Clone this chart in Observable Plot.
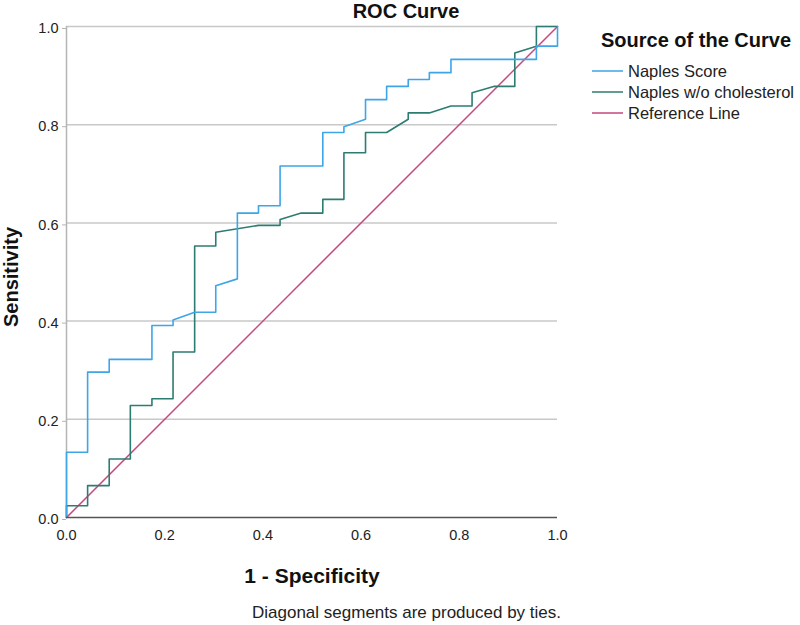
<!DOCTYPE html>
<html>
<head>
<meta charset="utf-8">
<script src="https://cdn.jsdelivr.net/npm/d3@7"></script>
<script src="https://cdn.jsdelivr.net/npm/@observablehq/plot@0.6"></script>
<style>
  html, body { margin: 0; padding: 0; background: #fff; }
  #chart { width: 800px; height: 625px; }
  svg { font-family: "Liberation Sans", Arial, sans-serif; }
</style>
</head>
<body>
<div id="chart"></div>
<script>
const seriesNames = ["Naples Score", "Naples w/o cholesterol", "Reference Line"];
const seriesColors = ["#3da5e8", "#2c7c71", "#c4497c"];

const naplesX = [0,0,0.043,0.043,0.087,0.087,0.174,0.174,0.217,0.217,0.261,0.304,0.304,0.348,0.348,0.391,0.391,0.435,0.435,0.522,0.522,0.565,0.565,0.609,0.609,0.652,0.652,0.696,0.696,0.739,0.739,0.783,0.783,0.957,0.957,1,1];
const naplesY = [0,0.133,0.133,0.296,0.296,0.322,0.322,0.391,0.391,0.402,0.418,0.418,0.472,0.486,0.620,0.620,0.635,0.635,0.716,0.716,0.784,0.784,0.796,0.811,0.851,0.851,0.878,0.878,0.892,0.892,0.906,0.906,0.933,0.933,0.960,0.960,1];

const noCholX = [0,0,0.043,0.043,0.087,0.087,0.130,0.130,0.174,0.174,0.217,0.217,0.261,0.261,0.304,0.304,0.391,0.435,0.435,0.478,0.522,0.522,0.565,0.565,0.609,0.609,0.652,0.696,0.696,0.739,0.783,0.826,0.826,0.870,0.913,0.913,0.957,0.957,1];
const noCholY = [0,0.024,0.024,0.065,0.065,0.119,0.119,0.228,0.228,0.242,0.242,0.337,0.337,0.553,0.553,0.581,0.595,0.595,0.607,0.620,0.620,0.648,0.648,0.743,0.743,0.784,0.784,0.811,0.824,0.824,0.838,0.838,0.865,0.878,0.878,0.946,0.960,1,1];

const refX = [0, 1];
const refY = [0, 1];

const xTicks = [0, 0.2, 0.4, 0.6, 0.8, 1.0];
const yTicks = [0, 0.2, 0.4, 0.6, 0.8, 1.0];
const gridTicks = [0.2, 0.4, 0.6, 0.8, 1.0];

const toPts = (xs, ys) => xs.map((x, i) => ({x, y: ys[i]}));
const naples = toPts(naplesX, naplesY);
const noChol = toPts(noCholX, noCholY);
const ref = toPts(refX, refY);

const fmt = d3.format(".1f");
const font = "Liberation Sans, Arial, sans-serif";

const svg = Plot.plot({
  width: 800,
  height: 625,
  marginLeft: 66,
  marginRight: 243,
  marginTop: 26,
  marginBottom: 108,
  style: {fontFamily: font, fontSize: "14.5px", color: "#222", background: "#fff"},
  x: {domain: [0, 1]},
  y: {domain: [0, 1]},
  marks: [
    Plot.gridY(gridTicks, {stroke: "#c8c8c8", strokeOpacity: 1, strokeWidth: 1.5}),
    Plot.ruleX([0], {stroke: "#b4b4b4", strokeWidth: 1.5}),
    Plot.axisY(yTicks, {tickFormat: fmt, tickSize: 4, tickPadding: 4, stroke: "#b4b4b4", fill: "#222", label: null, fontSize: 14.5, dy: 2}),
    Plot.axisX(xTicks, {tickFormat: fmt, tickSize: 0, tickPadding: 12, fill: "#222", label: null, fontSize: 14.5}),
    Plot.line(ref, {x: "x", y: "y", stroke: seriesColors[2], strokeWidth: 1.5}),
    Plot.line(noChol, {x: "x", y: "y", stroke: seriesColors[1], strokeWidth: 1.6}),
    Plot.line(naples, {x: "x", y: "y", stroke: seriesColors[0], strokeWidth: 1.6}),
    Plot.ruleY([0], {stroke: "#555", strokeWidth: 1.5})
  ]
});

const g = d3.select(svg).append("g").attr("font-family", font);
// title
g.append("text")
  .attr("x", 406).attr("y", 11).attr("dy", "0.35em")
  .attr("text-anchor", "middle")
  .attr("font-size", 20).attr("font-weight", "bold").attr("fill", "#111")
  .text("ROC Curve");
// y-axis title
g.append("text")
  .attr("transform", "translate(11,277) rotate(-90)")
  .attr("dy", "0.35em")
  .attr("text-anchor", "middle")
  .attr("font-size", 20).attr("font-weight", "bold").attr("fill", "#111")
  .text("Sensitivity");
// x-axis title
g.append("text")
  .attr("x", 312).attr("y", 576).attr("dy", "0.35em")
  .attr("text-anchor", "middle")
  .attr("font-size", 21).attr("font-weight", "bold").attr("fill", "#111")
  .text("1 - Specificity");
// footnote
g.append("text")
  .attr("x", 252).attr("y", 612).attr("dy", "0.35em")
  .attr("text-anchor", "start")
  .attr("font-size", 17).attr("fill", "#222")
  .text("Diagonal segments are produced by ties.");
// legend
g.append("text")
  .attr("x", 696).attr("y", 40).attr("dy", "0.35em")
  .attr("text-anchor", "middle")
  .attr("font-size", 20).attr("font-weight", "bold").attr("fill", "#111")
  .text("Source of the Curve");
seriesNames.forEach((name, i) => {
  const y = 71 + i * 21;
  g.append("line").attr("x1", 592).attr("x2", 623).attr("y1", y).attr("y2", y)
    .attr("stroke", seriesColors[i]).attr("stroke-width", 1.5);
  g.append("text").attr("x", 628).attr("y", y).attr("dy", "0.35em")
    .attr("text-anchor", "start")
    .attr("font-size", 16.5).attr("fill", "#222").text(name);
});

document.getElementById("chart").appendChild(svg);
</script>
</body>
</html>
